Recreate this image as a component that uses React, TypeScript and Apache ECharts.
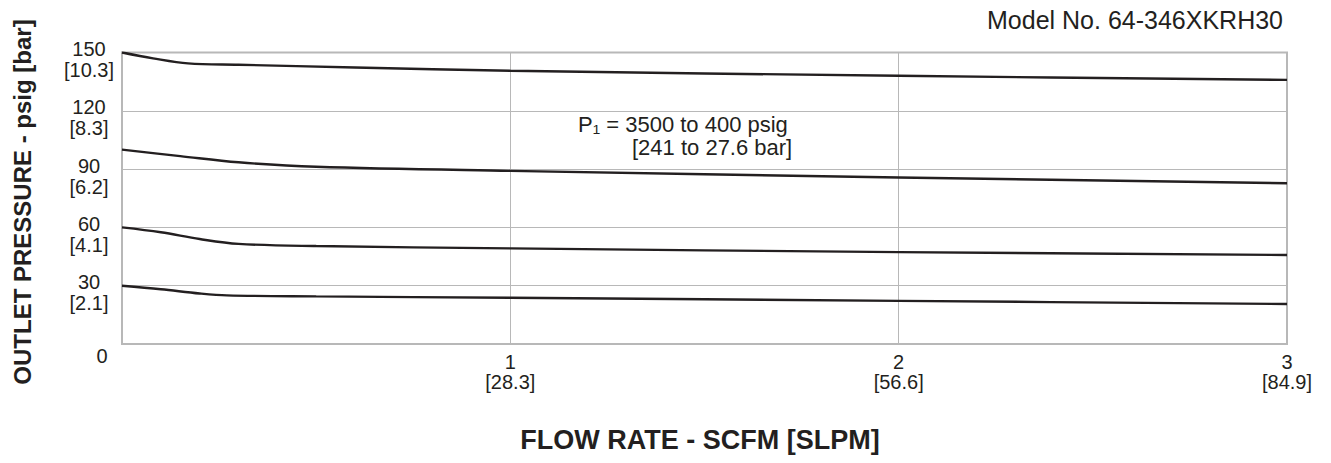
import React, { useEffect, useRef } from "react";
import * as echarts from "echarts";

const xTickLabels: Record<number, string> = { 1: "1\n[28.3]", 2: "2\n[56.6]", 3: "3\n[84.9]" };
const yTickLabels: Record<number, string> = {
  150: "{a|150}\n{a|[10.3]}",
  120: "{a|120}\n{a|[8.3]}",
  90: "{a|90}\n{a|[6.2]}",
  60: "{a|60}\n{a|[4.1]}",
  30: "{a|30}\n{a|[2.1]}",
  0: "{z|0}",
};

const flow1 = [0, 0.08, 0.17, 0.3, 0.6, 1, 2, 3];
const pres1 = [150, 147, 144.4, 143.7, 142.3, 140.6, 138, 135.9];
const flow2 = [0, 0.15, 0.3, 0.5, 1, 2, 3];
const pres2 = [100, 96.7, 93.5, 91.2, 89.1, 85.7, 82.7];
const flow3 = [0, 0.1, 0.2, 0.3, 0.5, 1, 2, 3];
const pres3 = [60, 57.5, 54, 51.5, 50.4, 49.2, 47.3, 45.8];
const flow4 = [0, 0.1, 0.2, 0.27, 0.5, 1, 2, 3];
const pres4 = [30, 28.2, 26, 25, 24.5, 23.8, 22.2, 20.6];

const curves = [
  [flow1, pres1],
  [flow2, pres2],
  [flow3, pres3],
  [flow4, pres4],
];

const INK = "#231f20";
const GRID = "#b8b8b8";
const FONT = "'Liberation Sans', Arial, sans-serif";

export default function App() {
  const ref = useRef<HTMLDivElement>(null);
  useEffect(() => {
    if (!ref.current) return;
    const chart = echarts.init(ref.current, undefined, { renderer: "svg" });
    chart.setOption({
      animation: false,
      backgroundColor: "#ffffff",
      grid: {
        left: 122,
        top: 52.5,
        right: 44,
        bottom: 119,
        show: true,
        borderColor: GRID,
        borderWidth: 2,
      },
      xAxis: {
        type: "value",
        min: 0,
        max: 3,
        interval: 1,
        axisLine: { show: true, lineStyle: { color: GRID, width: 2 } },
        axisTick: { show: false },
        splitLine: { show: true, lineStyle: { color: GRID, width: 1 } },
        axisLabel: {
          show: true,
          margin: 8,
          color: INK,
          fontFamily: FONT,
          fontSize: 20,
          lineHeight: 20,
          align: "center",
          showMinLabel: false,
          showMaxLabel: true,
          formatter: (v: number) => xTickLabels[v] ?? "",
        },
      },
      yAxis: {
        type: "value",
        min: 0,
        max: 150,
        interval: 30,
        axisLine: { show: true, lineStyle: { color: GRID, width: 2 } },
        axisTick: { show: false },
        splitLine: { show: true, lineStyle: { color: GRID, width: 1 } },
        axisLabel: {
          show: true,
          margin: 33,
          color: INK,
          fontFamily: FONT,
          fontSize: 20,
          lineHeight: 21,
          align: "center",
          verticalAlign: "middle",
          padding: [14, 0, 0, 0],
          showMinLabel: true,
          showMaxLabel: true,
          hideOverlap: false,
          formatter: (v: number) => yTickLabels[v] ?? "",
          rich: {
            a: { fontFamily: FONT, fontSize: 20, lineHeight: 21, color: INK },
            z: {
              fontFamily: FONT,
              fontSize: 20,
              color: INK,
              padding: [10, 0, 0, 26],
            },
          },
        },
      },
      series: curves.map(([xs, ys]) => ({
        type: "line",
        data: xs.map((x, i) => [x, ys[i]]),
        smooth: 0.35,
        showSymbol: false,
        symbol: "none",
        lineStyle: { color: INK, width: 2.4 },
        silent: true,
      })),
      graphic: [
        {
          type: "text",
          right: 48,
          top: 7,
          style: { text: "Model No. 64-346XKRH30", font: `25px ${FONT}`, fill: INK },
        },
        {
          type: "text",
          left: 578,
          top: 113,
          style: {
            text: "{a|P\u2081 = 3500 to 400 psig}\n{b|[241 to 27.6 bar]}",
            fill: INK,
            rich: {
              a: { fontFamily: FONT, fontSize: 22, lineHeight: 23, fill: INK },
              b: { fontFamily: FONT, fontSize: 22, lineHeight: 23, fill: INK, padding: [0, 0, 0, 54] },
            },
          },
        },
        {
          type: "text",
          x: 700,
          y: 440,
          style: {
            text: "FLOW RATE - SCFM [SLPM]",
            font: `bold 27px ${FONT}`,
            fill: INK,
            align: "center",
            verticalAlign: "middle",
          },
        },
        {
          type: "text",
          x: 22,
          y: 202,
          rotation: Math.PI / 2,
          style: {
            text: "OUTLET PRESSURE - psig [bar]",
            font: `bold 24px ${FONT}`,
            fill: INK,
            align: "center",
            verticalAlign: "middle",
          },
        },
      ],
    });
    return () => chart.dispose();
  }, []);
  return (
    <div
      ref={ref}
      style={{ position: "fixed", left: 0, top: 0, width: 1331, height: 463 }}
    />
  );
}
